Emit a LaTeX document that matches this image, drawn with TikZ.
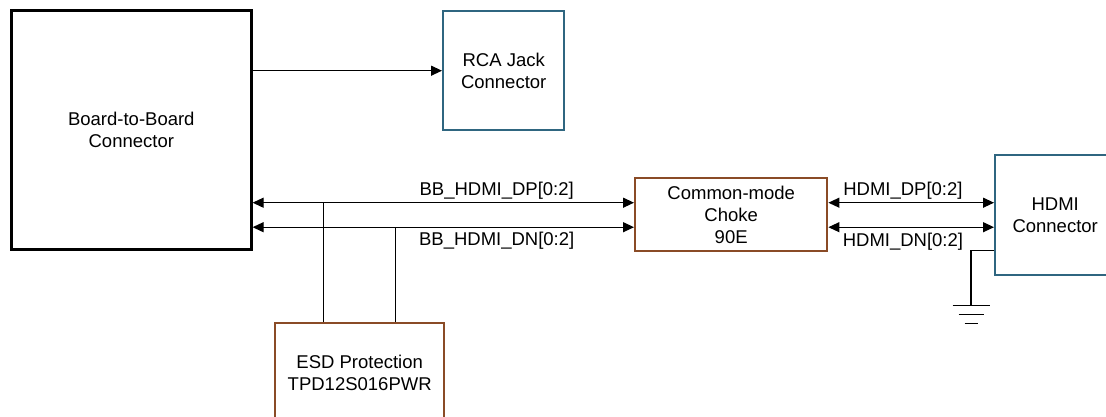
\documentclass[tikz,border=0pt]{standalone}
\usepackage{fontspec}
\setmainfont{Liberation Sans}
\definecolor{conblue}{HTML}{2F6680}
\definecolor{partbrown}{HTML}{8A4B26}
\usetikzlibrary{arrows.meta}
\tikzset{
  blk/.style={draw=black,line width=2.6pt,align=center,inner sep=0pt,
              font=\fontsize{18.5}{22}\selectfont},
  conn/.style={blk,draw=conblue,line width=2.4pt},
  part/.style={blk,draw=partbrown,line width=2.4pt},
  wire/.style={line width=1.2pt},
  arr/.style={-{Triangle[length=11pt,width=10pt]},wire},
  darr/.style={{Triangle[length=11pt,width=10pt]}-{Triangle[length=11pt,width=10pt]},wire},
  lbl/.style={font=\fontsize{18.5}{22}\selectfont,anchor=base,inner sep=0pt}
}
\begin{document}
\begin{tikzpicture}[x=1pt,y=-1pt]
    \useasboundingbox (0,0) rectangle (1106,416);
    \node[blk,minimum width=240pt,minimum height=239pt,anchor=north west] (b2b) at (10,9) {Board-to-Board\\Connector};
    \node[conn,minimum width=121pt,minimum height=119pt,anchor=north west] (rca) at (442,10) {RCA Jack\\Connector};
    \node[part,minimum width=192pt,minimum height=73pt,anchor=north west] (choke) at (634,177) {Common-mode\\Choke\\90E};
    \node[conn,minimum width=120pt,minimum height=120pt,anchor=north west] (hdmi) at (994,154) {HDMI\\Connector};
    \node[part,minimum width=169pt,minimum height=100pt,anchor=north west] (esd) at (274,322) {ESD Protection\\TPD12S016PWR};
    \draw[arr] (b2b.east |- rca.west) -- (rca.west);
    % differential pairs
    \coordinate (dp) at ([yshift=12pt]choke.west);
    \coordinate (dn) at ([yshift=-12.5pt]choke.west);
    \draw[darr] (b2b.east |- dp) -- node[lbl,pos=0.64,yshift=7.5pt]{BB\_HDMI\_DP[0:2]} (dp);
    \draw[darr] (b2b.east |- dn) -- node[lbl,pos=0.64,yshift=-18pt]{BB\_HDMI\_DN[0:2]} (dn);
    \draw[darr] (choke.east |- dp) -- node[lbl,pos=0.45,yshift=7pt]{HDMI\_DP[0:2]} (hdmi.west |- dp);
    \draw[darr] (choke.east |- dn) -- node[lbl,pos=0.45,yshift=-19pt]{HDMI\_DN[0:2]} (hdmi.west |- dn);
    % esd taps
    \coordinate (esdp) at ([xshift=-36.5pt]esd.north);
    \coordinate (esdn) at ([xshift=35.5pt]esd.north);
    \draw[wire] (esdp) -- (esdp |- dp);
    \draw[wire] (esdn) -- (esdn |- dn);
    % ground
    \coordinate (gtap) at ([yshift=-35pt]hdmi.west);
    \coordinate (gnd) at ([xshift=-23pt,yshift=-55pt]gtap);
    \draw[wire] (gtap) -| (gnd);
    \draw[wire] ([xshift=-18.5pt]gnd) -- ([xshift=18.5pt]gnd)
                ([xshift=-12.5pt,yshift=-9pt]gnd) -- ([xshift=12.5pt,yshift=-9pt]gnd)
                ([xshift=-6.5pt,yshift=-18pt]gnd) -- ([xshift=6.5pt,yshift=-18pt]gnd);
\end{tikzpicture}
\end{document}
